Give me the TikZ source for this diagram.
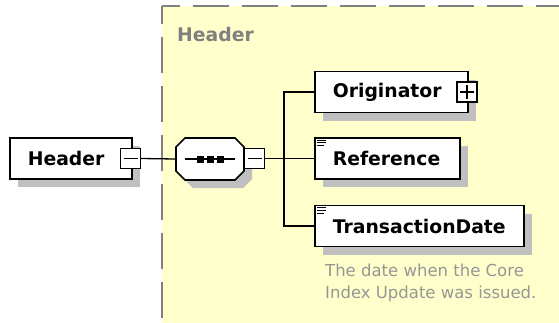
\documentclass[tikz,border=0pt]{standalone}
\usepackage{fontspec}
\setmainfont{DejaVu Sans}
\usetikzlibrary{positioning,shadows}
\definecolor{groupfill}{RGB}{255,255,204}
\definecolor{groupline}{RGB}{128,128,128}
\definecolor{shadowgray}{RGB}{192,192,192}
\definecolor{notegray}{RGB}{150,150,150}

\begin{document}
\begin{tikzpicture}[x=1pt,y=-1pt,
  elem/.style={draw=black,line width=1.6pt,fill=white,minimum height=41pt,
    text width=#1,inner xsep=18pt,inner ysep=0pt,align=left,
    font=\fontsize{18.8}{20}\selectfont\bfseries,
    drop shadow={shadow xshift=8pt,shadow yshift=-8pt,fill=shadowgray,opacity=1}},
  seqbox/.style={minimum width=68pt,minimum height=42pt},
  minusbox/.style={draw=black,line width=1.3pt,fill=white,minimum size=20pt,
    path picture={\draw[line width=1.3pt] ([xshift=3pt]path picture bounding box.west)
      -- ([xshift=-3pt]path picture bounding box.east);}},
  plusbox/.style={draw=black,line width=1.3pt,fill=white,minimum size=20pt,
    path picture={\draw[line width=1.3pt] ([xshift=3pt]path picture bounding box.west)
      -- ([xshift=-3pt]path picture bounding box.east);
      \draw[line width=1.3pt] ([yshift=-3pt]path picture bounding box.north)
      -- ([yshift=3pt]path picture bounding box.south);}},
  wire/.style={line width=1.3pt,black}]
\tikzstyle{every node}+=[inner sep=0pt]
\useasboundingbox (0,0) rectangle (559,322);
% group area
\fill [groupfill] (162,6) rectangle (560,323);
\draw [groupline,line width=1.6pt,dash pattern=on 36pt off 13pt,dash phase=18pt] (162,6) -- (560,6);
\draw [groupline,line width=1.6pt,dash pattern=on 36pt off 13pt,dash phase=18pt] (162,6) -- (162,323);
\node [anchor=base west,text=groupline,font=\fontsize{18.8}{20}\selectfont\bfseries] (grp) at (177,41.5) {Header};
% elements
\node [elem=86pt,anchor=west] (hdr) at (9,158.5) {Header};
\node [minusbox] (hdrm) at (130.5,158.5) {};
\node [seqbox] (seq) at (210,159) {};
\coordinate (seqsh) at ([xshift=8pt,yshift=-8pt]seq.center);
\fill [shadowgray] (seqsh) +(-25,-21) -- +(25,-21) -- +(34,-12) -- +(34,12) -- +(25,21)
  -- +(-25,21) -- +(-34,12) -- +(-34,-12) -- cycle;
\filldraw [fill=white,draw=black,line width=1.6pt] (seq) +(-25,-21) -- +(25,-21) -- +(34,-12) -- +(34,12) -- +(25,21)
  -- +(-25,21) -- +(-34,12) -- +(-34,-12) -- cycle;
\node [minusbox] (seqm) at (254.5,158.5) {};
\coordinate (fork) at (284,158.5);
\node [elem=117pt,anchor=west] (orig) at (314,92) {Originator};
\node [plusbox] (origp) at (467,92) {};
\node [elem=109pt,anchor=west] (ref) at (314,158.5) {Reference};
\node [elem=173pt,anchor=west] (tdate) at (314,226) {TransactionDate};
\node [anchor=north west,align=left,text=notegray,font=\fontsize{16.5}{22}\selectfont] (desc) at (325,264) {The date when the Core\\Index Update was issued.};
% sequence symbol
\draw [wire] ([xshift=-25pt]seq.center) -- ([xshift=25pt]seq.center);
\foreach \dx in {-10,0,10}
  \fill ([xshift=\dx pt]seq.center) +(-3.5,-3.5) rectangle +(3.5,3.5);
% simple type marks
\foreach \n in {ref,tdate} {
  \draw [line width=1pt] ([xshift=3pt,yshift=-3pt]\n.north west) -- ++(9,0);
  \draw [line width=1pt] ([xshift=3pt,yshift=-5.7pt]\n.north west) -- ++(9,0);
  \draw [line width=1pt] ([xshift=3pt,yshift=-8.4pt]\n.north west) -- ++(6.5,0);
}
% connectors
\draw [wire] (hdrm.east) -- (seq.west);
\draw [wire] (seqm.east) -- (fork);
\draw [wire] (fork) |- (orig.west);
\draw [wire] (fork) -- (ref.west);
\draw [wire] (fork) |- (tdate.west);
\end{tikzpicture}
\end{document}
